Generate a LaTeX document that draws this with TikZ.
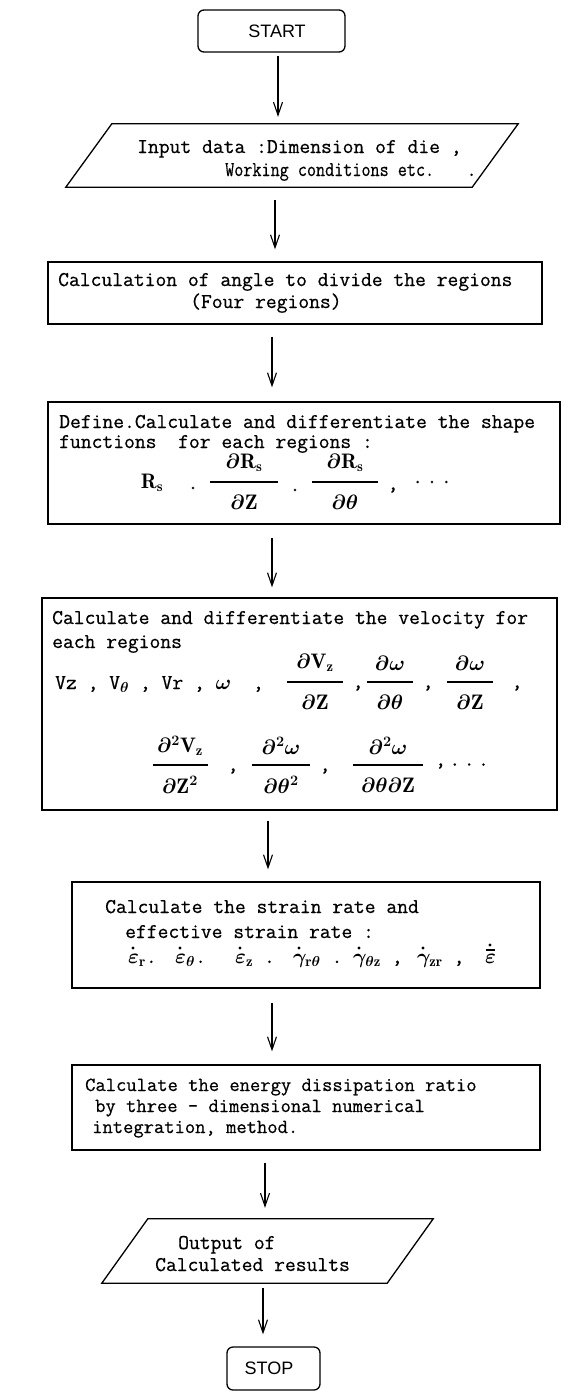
\documentclass[tikz,border=0pt]{standalone}
\usepackage{fontspec}
\usepackage{graphicx}
\newfontfamily\tw[FakeBold=0.6]{Latin Modern Mono}
\newfontfamily\sw{Liberation Sans}
\usetikzlibrary{arrows.meta}
\newcommand{\Fz}{\fontsize{21}{21}\selectfont}
\tikzset{
  box/.style={draw, line width=1.3pt, inner sep=0pt},
  rbox/.style={box, rounded corners=6pt},
  txt/.style={inner sep=0pt, anchor=west, text height=12pt, text depth=0pt, font=\tw\Fz\boldmath},
  mth/.style={inner sep=0pt, font=\tw\Fz\boldmath},
  sym/.style={mth, anchor=base west},
  term/.style={inner sep=0pt, font=\sw\fontsize{18}{18}\selectfont},
  arr/.style={line width=1.1pt, -{Straight Barb[length=13pt,width=9pt]}},
  fbar/.style={line width=1.3pt},
  dotmark/.style={fill=black},
}
\newcommand{\Frac}[6]{%
  \node[mth] (#1n) at ({#2},{#3-19}) {$#5$};
  \node[mth] (#1d) at ({#2},{#3+20}) {$#6$};
  \draw[fbar] ({#2-#4/2},{#3}) -- ({#2+#4/2},{#3});
}
\newcommand{\Dot}[2]{\fill[dotmark] ([xshift=#2]#1.base west) ++(0pt,15pt) circle[radius=1.7pt];}
\begin{document}
\begin{tikzpicture}[x=1pt,y=-1pt]
\useasboundingbox (0,0) rectangle (577,1393);
\fill[white] (0,0) rectangle (577,1393);

% START
\node[rbox, minimum width=147pt, minimum height=42pt] (start) at (271.5,31) {};
\node[term] (startt) at (277,31) {START};

% Input parallelogram
\node[inner sep=0pt, minimum width=406pt, minimum height=63pt] (input) at (292,155.5) {};
\draw[line width=1.3pt] ([xshift=23pt]input.north west) -- ([xshift=23pt]input.north east)
  -- ([xshift=-23pt]input.south east) -- ([xshift=-23pt]input.south west) -- cycle;
\node[txt] (in1) at (137,147) {Input data :Dimension of die ,};
\node[txt] (in2) at (225,170) {\scalebox{0.84}[1]{Working conditions etc.}};
\node[txt] (in3) at (466,170) {.};

% Box 3
\node[box, minimum width=494pt, minimum height=62pt] (b3) at (295,293) {};
\node[txt] (b3a) at (58,280) {Calculation of angle to divide the regions};
\node[txt] (b3b) at (190,302) {(Four regions)};

% Box 4
\node[box, minimum width=512pt, minimum height=122pt] (b4) at (304,463) {};
\node[txt] (b4a) at (59,422) {Define.Calculate and differentiate the shape};
\node[txt] (b4b) at (59,442) {functions\ \ for each regions :};
\node[mth] (rs) at (152,483) {$\mathrm{R_s}$};
\node[mth] (p1) at (193,488) {.};
\Frac{fa}{244}{482}{68}{\partial\mathrm{R_s}}{\partial\mathrm{Z}}
\node[mth] (p2) at (295,490) {.};
\Frac{fb}{345}{482}{66}{\partial\mathrm{R_s}}{\partial\theta}
\node[mth] (p3) at (393,490) {,};
\node[mth] (p4) at (432,482) {.\,.\,.};

% Box 5
\node[box, minimum width=515pt, minimum height=212pt] (b5) at (299.5,704) {};
\node[txt] (b5a) at (52,618) {Calculate and differentiate the velocity for};
\node[txt] (b5b) at (52,642) {each regions};
\node[txt] (vz) at (55,683) {Vz , V$_\theta$ , Vr , $\omega$\ \ ,};
\Frac{fc}{315}{682}{56}{\partial\mathrm{V_z}}{\partial\mathrm{Z}}
\node[mth] (c1) at (358,688) {,};
\Frac{fd}{390}{682}{46}{\partial\omega}{\partial\theta}
\node[mth] (c2) at (428,688) {,};
\Frac{fe}{470}{682}{46}{\partial\omega}{\partial\mathrm{Z}}
\node[mth] (c3) at (517,688) {,};
\Frac{ff}{180}{765}{55}{\partial^2\mathrm{V_z}}{\partial\mathrm{Z}^2}
\node[mth] (c4) at (233,771) {,};
\Frac{fg}{281}{765}{58}{\partial^2\omega}{\partial\theta^2}
\node[mth] (c5) at (325,771) {,};
\Frac{fh}{388}{765}{70}{\partial^2\omega}{\partial\theta\partial\mathrm{Z}}
\node[mth] (c6) at (462,766) {,\,.\,.\,.};

% Box 6
\node[box, minimum width=468pt, minimum height=106pt] (b6) at (306,935) {};
\node[txt] (b6a) at (105,907) {Calculate the strain rate and};
\node[txt] (b6b) at (125,932) {effective strain rate :};
\node[sym] (e1) at (128,963) {$\varepsilon_{\mathrm r}$.};
\node[sym] (e2) at (175,963) {$\varepsilon_{\theta}$.};
\node[sym] (e3) at (235,963) {$\varepsilon_{\mathrm z}$\ .};
\node[sym] (e4) at (293,963) {$\gamma_{\mathrm r\theta}$\ .};
\node[sym] (e5) at (353,963) {$\gamma_{\theta\mathrm z}$\ ,};
\node[sym] (e6) at (417,963) {$\gamma_{\mathrm{zr}}$\ ,};
\node[sym] (e7) at (485,963) {$\varepsilon$};
\Dot{e1}{5pt}
\Dot{e2}{5pt}
\Dot{e3}{5pt}
\Dot{e4}{6pt}
\Dot{e5}{6pt}
\Dot{e6}{6pt}
\draw[line width=1.2pt] ([xshift=0.5pt,yshift=13pt]e7.base west) -- ([xshift=10pt,yshift=13pt]e7.base west);
\fill[dotmark] ([xshift=5pt,yshift=18pt]e7.base west) circle[radius=1.7pt];

% Box 7
\node[box, minimum width=468pt, minimum height=85pt] (b7) at (306,1107.5) {};
\node[txt, font=\tw\fontsize{20}{20}\selectfont] (b7a) at (85,1085) {Calculate the energy dissipation ratio};
\node[txt, font=\tw\fontsize{20}{20}\selectfont] (b7b) at (95,1106) {by three - dimensional numerical};
\node[txt, font=\tw\fontsize{20}{20}\selectfont] (b7c) at (92,1127) {integration, method.};

% Output parallelogram
\node[inner sep=0pt, minimum width=285pt, minimum height=64pt] (out) at (267.5,1251) {};
\draw[line width=1.3pt] ([xshift=23pt]out.north west) -- ([xshift=23pt]out.north east)
  -- ([xshift=-23pt]out.south east) -- ([xshift=-23pt]out.south west) -- cycle;
\node[txt] (o1) at (178,1243) {Output of};
\node[txt] (o2) at (155,1265) {Calculated results};

% STOP
\node[rbox, minimum width=93pt, minimum height=43pt] (stop) at (273.5,1368.5) {};
\node[term] (stopt) at (269,1368.5) {STOP};

% arrows
\coordinate (x1) at (278,0);
\coordinate (x2) at (275,0);
\coordinate (x3) at (272,0);
\coordinate (x5) at (268,0);
\coordinate (x7) at (265,0);
\coordinate (x8) at (263,0);
\draw[arr, shorten <=3pt, shorten >=7pt] (start.south -| x1) -- (input.north -| x1);
\draw[arr, shorten <=13pt, shorten >=12pt] (input.south -| x2) -- (b3.north -| x2);
\draw[arr, shorten <=12pt, shorten >=14pt] (b3.south -| x3) -- (b4.north -| x3);
\draw[arr, shorten <=13pt, shorten >=10pt] (b4.south -| x3) -- (b5.north -| x3);
\draw[arr, shorten <=10pt, shorten >=12pt] (b5.south -| x5) -- (b6.north -| x5);
\draw[arr, shorten <=14pt, shorten >=13pt] (b6.south -| x3) -- (b7.north -| x3);
\draw[arr, shorten <=12pt, shorten >=11pt] (b7.south -| x7) -- (out.north -| x7);
\draw[arr, shorten <=5pt, shorten >=12pt] (out.south -| x8) -- (stop.north -| x8);
\end{tikzpicture}
\end{document}
